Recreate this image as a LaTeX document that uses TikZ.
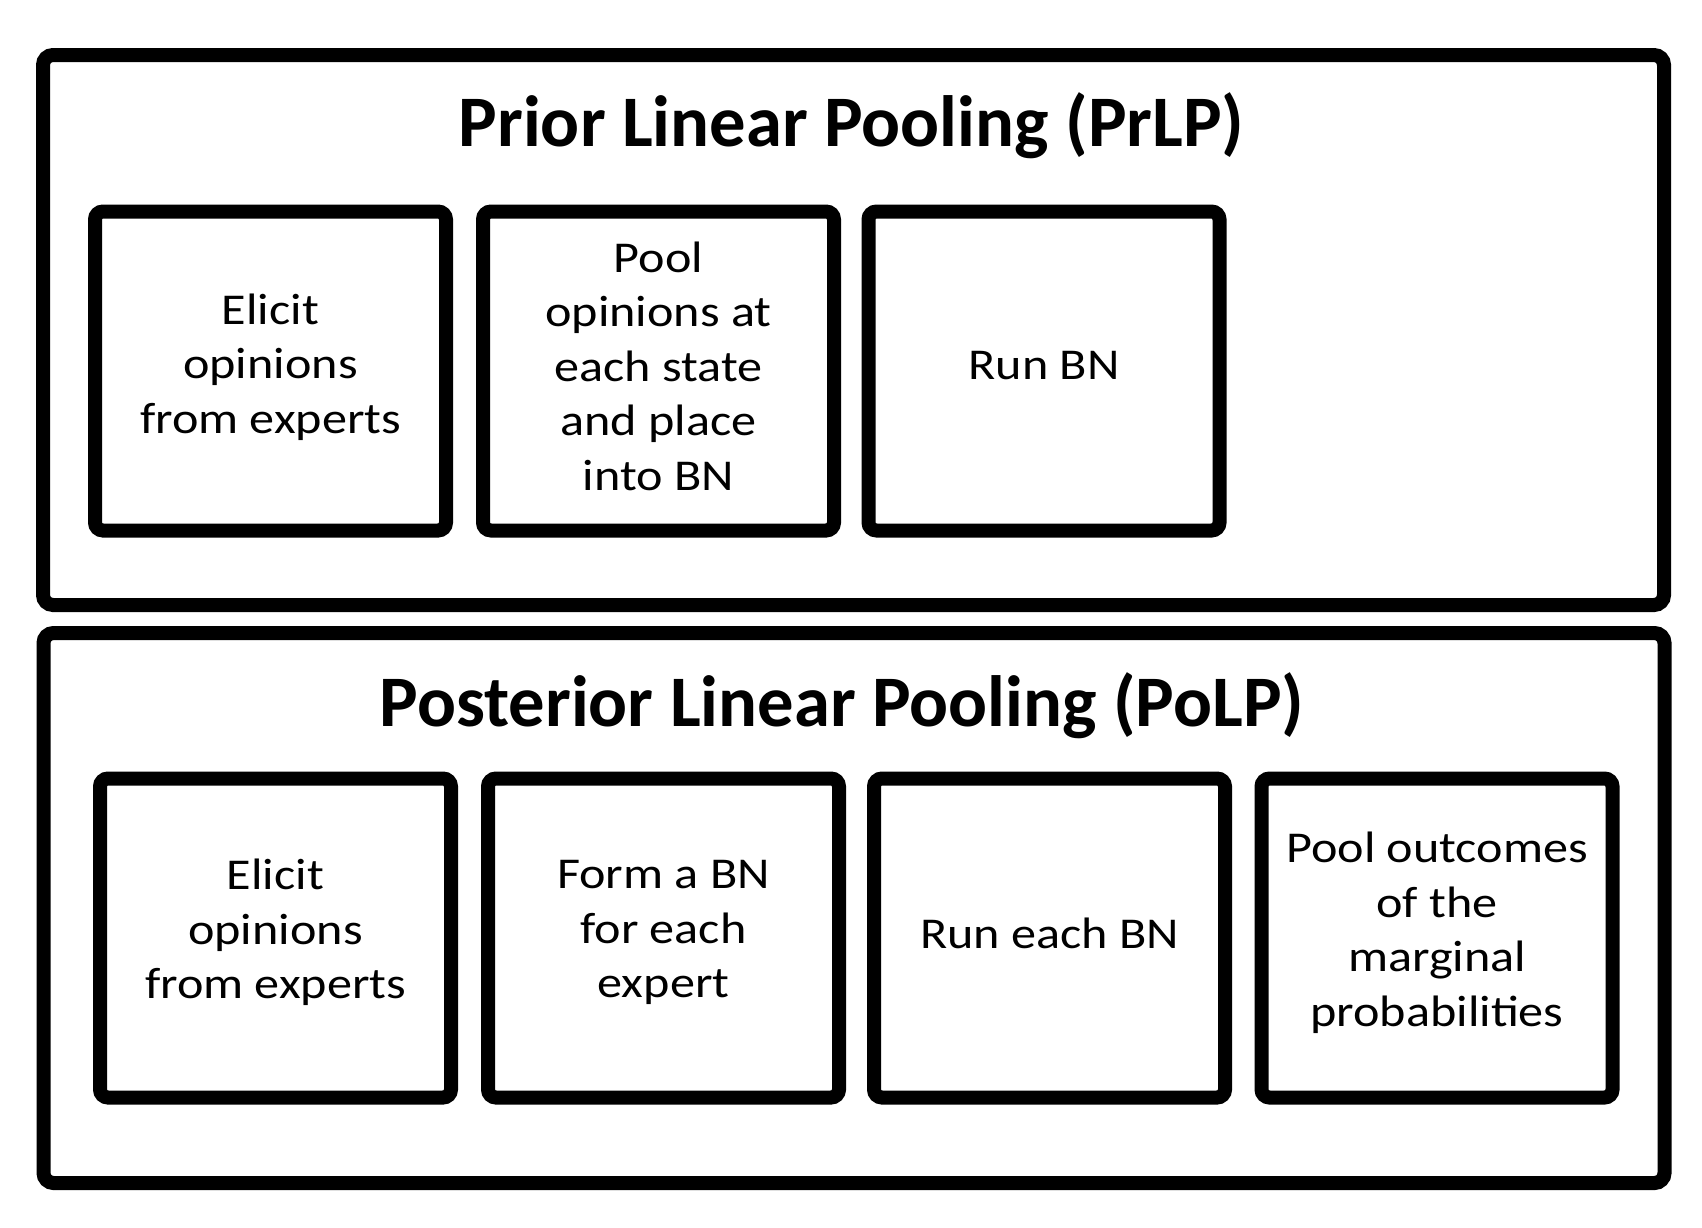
\documentclass[tikz,border=0pt]{standalone}
\usepackage{fontspec}
\setmainfont{Carlito}
\newfontfamily\boxfont{Carlito}[FakeStretch=1.14]
\tikzstyle{panel}=[draw,line width=7pt,rounded corners=5pt,minimum width=810.5pt,minimum height=275pt,inner sep=0pt]
\tikzstyle{stage}=[draw,line width=7pt,rounded corners=4pt,minimum width=175.5pt,minimum height=159.5pt,inner sep=0pt]
\tikzstyle{words}=[align=center,inner sep=0pt,font=\boxfont\fontsize{22pt}{27.25pt}\selectfont]
\tikzstyle{heading}=[anchor=base,font=\bfseries\fontsize{36.3pt}{44pt}\selectfont]

\begin{document}
\begin{tikzpicture}[x=0.5pt,y=-0.5pt]
\useasboundingbox (0,0) rectangle (1702,1227);
% prior linear pooling
\node [panel] (prlp) at (853.5,330) {};
\node [heading] (prlpt) at (851.5,146) {Prior Linear Pooling (PrLP)};
\node [stage] (a) at (270.5,371) {};
\node [stage] (b) at (658.5,371) {};
\node [stage] (c) at (1044,371) {};
\node [words] (at) at (270.5,367) {Elicit\\opinions\\from experts};
\node [words] (bt) at (658.5,366) {Pool\\opinions at\\each state\\and place\\into BN};
\node [words] (ct) at (1044,366) {Run BN};
% posterior linear pooling
\node [panel] (polp) at (854,908) {};
\node [heading] (polpt) at (842,726) {Posterior Linear Pooling (PoLP)};
\node [stage] (d) at (275.5,938) {};
\node [stage] (e) at (663.5,938) {};
\node [stage] (f) at (1049.5,938) {};
\node [stage] (g) at (1437,938) {};
\node [words] (dt) at (275.5,932.5) {Elicit\\opinions\\from experts};
\node [words] (et) at (663.5,932.5) {Form a BN\\for each\\expert};
\node [words] (ft) at (1049.5,933) {Run each BN};
\node [words] (gt) at (1437,933) {Pool outcomes\\of the\\marginal\\probabilities};
\end{tikzpicture}
\end{document}
